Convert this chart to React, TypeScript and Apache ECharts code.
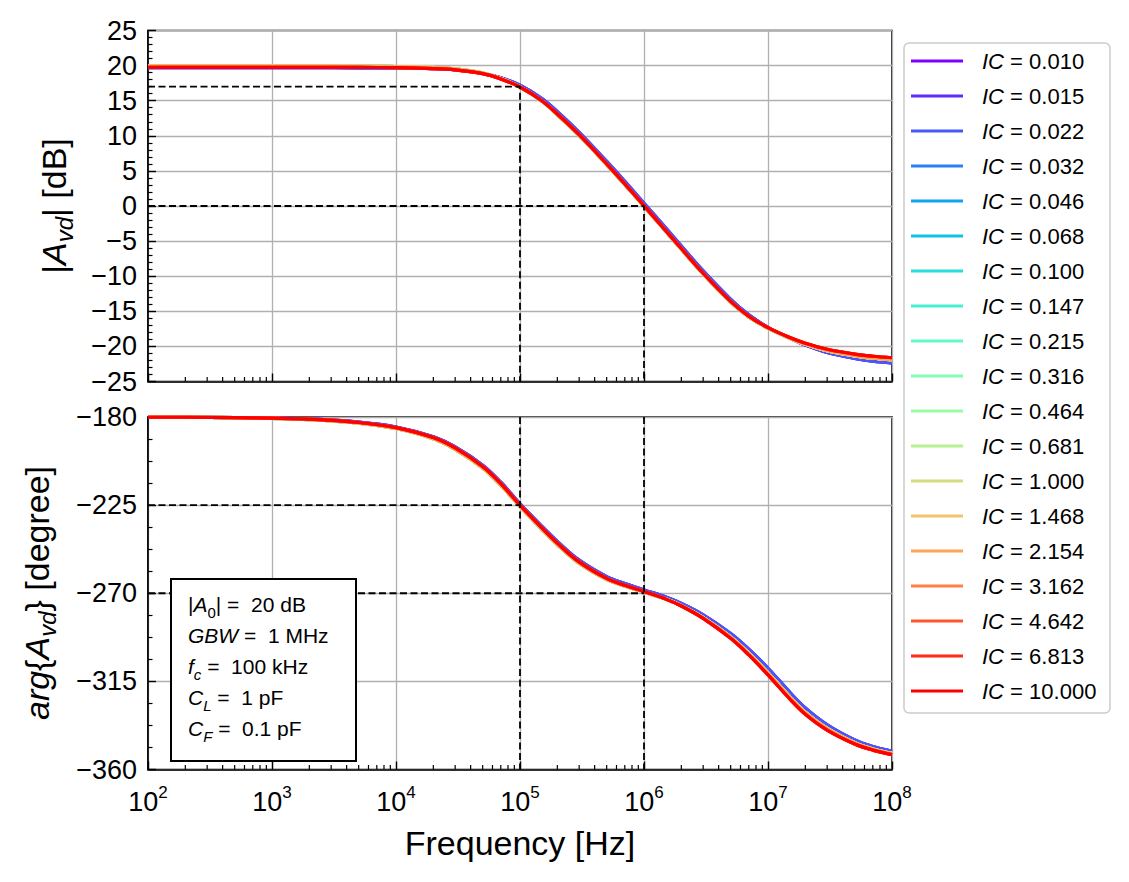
import { useEffect, useRef } from "react";
import * as echarts from "echarts";

const FONT = "'Liberation Sans', Arial, Helvetica, sans-serif";

// IC values shown in the legend and their rainbow colours
const icLabels = [
  "0.010", "0.015", "0.022", "0.032", "0.046", "0.068", "0.100", "0.147", "0.215", "0.316",
  "0.464", "0.681", "1.000", "1.468", "2.154", "3.162", "4.642", "6.813", "10.000",
];
const icColors = [
  "#8000ff", "#632cfe", "#4757fb", "#2b80f6", "#0ea4f0", "#0ec3e7", "#2adddd", "#47f0d1", "#63fbc3", "#80ffb4",
  "#9cfba4", "#b8f092", "#d4dd80", "#f1c36c", "#ffa457", "#ff8042", "#ff572c", "#ff2c16", "#ff0000",
];

// sampled frequencies (Hz)
const freqs = [
  1e2, 2e2, 5e2, 1e3, 2e3, 5e3, 1e4, 2e4, 3e4, 5e4, 7e4, 1e5, 1.5e5, 2e5, 3e5,
  5e5, 7e5, 1e6, 1.5e6, 2e6, 3e6, 5e6, 7e6, 1e7, 1.5e7, 2e7, 3e7, 5e7, 7e7, 1e8,
];

// |Avd| in dB (low IC, mid IC, high IC)
const magLow = [
  19.7, 19.7, 19.7, 19.7, 19.7, 19.69, 19.66, 19.56, 19.4, 18.9, 18.25, 17.2, 15.3, 13.45, 10.5,
  6.35, 3.5, 0.4, -3.15, -5.7, -9.25, -13.3, -15.5, -17.3, -18.85, -19.8, -20.85, -21.7, -22.1, -22.35,
];
const magMid = [
  19.92, 19.92, 19.92, 19.92, 19.92, 19.91, 19.87, 19.74, 19.55, 18.95, 18.15, 16.95, 14.95, 13.0, 10.05,
  5.9, 3.05, -0.05, -3.62, -6.16, -9.68, -13.68, -15.8, -17.4, -18.85, -19.7, -20.6, -21.35, -21.68, -21.9,
];
const magHigh = [
  19.75, 19.75, 19.75, 19.75, 19.75, 19.74, 19.7, 19.58, 19.4, 18.85, 18.1, 16.95, 15.0, 13.1, 10.15,
  6.0, 3.15, 0.05, -3.52, -6.06, -9.58, -13.58, -15.7, -17.33, -18.74, -19.55, -20.4, -21.1, -21.4, -21.62,
];

// arg{Avd} in degrees
const phaseLow = [
  -180.1, -180.1, -180.3, -180.5, -181.0, -182.6, -185.1, -190.1, -195.3, -204.6, -213.3, -224.3, -235.8, -243.5, -253.1,
  -261.5, -265.0, -268.3, -271.9, -275.2, -281.0, -290.6, -298.6, -308.3, -320.6, -328.6, -337.2, -344.9, -348.3, -350.7,
];
const phaseMid = [
  -180.1, -180.1, -180.3, -180.7, -181.3, -183.1, -185.9, -191.1, -196.5, -206.0, -214.8, -225.7, -237.3, -245.1, -254.6,
  -262.9, -266.3, -269.4, -273.0, -276.3, -282.4, -292.3, -300.6, -310.6, -322.9, -330.8, -339.0, -346.3, -349.5, -351.8,
];
const phaseHigh = [
  -180.1, -180.1, -180.3, -180.6, -181.1, -182.8, -185.4, -190.5, -195.8, -205.3, -214.0, -225.0, -236.6, -244.4, -254.0,
  -262.4, -265.9, -269.1, -273.0, -276.5, -282.8, -293.0, -301.5, -311.7, -324.0, -331.8, -339.9, -347.0, -350.1, -352.4,
];

// which read curve each IC follows (0 low, 1 mid, 2 high)
const curveGroup = [0, 0, 0, 1, 1, 1, 1, 1, 1, 1, 1, 1, 1, 1, 1, 2, 2, 2, 2];

// dashed guide lines
const guideFreq = [1e5, 1e6];
const guideMag = [17, 0];
const guidePhase = [-225, -270];

const minus = (v: number) => (v < 0 ? "\u2212" + Math.abs(v) : String(v));

export default function App() {
  const chartRef = useRef<HTMLDivElement>(null);

  useEffect(() => {
    if (!chartRef.current) return;
    const chart = echarts.init(chartRef.current, undefined, { renderer: "svg" });

    const mags = [magLow, magMid, magHigh];
    const phases = [phaseLow, phaseMid, phaseHigh];

    const series: any[] = [];
    icLabels.forEach((ic, k) => {
      const g = curveGroup[k];
      const common = {
        name: "IC=" + ic,
        type: "line",
        smooth: 0.35,
        showSymbol: false,
        symbol: "none",
        color: icColors[k],
        lineStyle: { width: 3.2, color: icColors[k] },
        z: 2,
        silent: true,
      };
      series.push({ ...common, xAxisIndex: 0, yAxisIndex: 0, data: freqs.map((f, i) => [f, mags[g][i]]) });
      series.push({ ...common, xAxisIndex: 1, yAxisIndex: 1, data: freqs.map((f, i) => [f, phases[g][i]]) });
    });

    const dashed = { type: [7, 3.5], color: "#000", width: 1.8 };
    guideFreq.forEach((f, k) => {
      const base = { type: "line", symbol: "none", silent: true, z: 5, lineStyle: dashed, color: "#000" };
      series.push({ ...base, xAxisIndex: 0, yAxisIndex: 0, data: [[100, guideMag[k]], [f, guideMag[k]], [f, -25]] });
      series.push({ ...base, xAxisIndex: 1, yAxisIndex: 1, data: [[100, guidePhase[k]], [f, guidePhase[k]]] });
      series.push({ ...base, xAxisIndex: 1, yAxisIndex: 1, data: [[f, -180], [f, -360]] });
    });

    // log minor ticks (2..9 per decade)
    const minorFreqs: number[] = [];
    for (let d = 2; d < 8; d++) for (let m = 2; m < 10; m++) minorFreqs.push(m * Math.pow(10, d));
    const minorTick = (xi: number, yBottom: number) => ({
      type: "custom",
      xAxisIndex: xi,
      yAxisIndex: xi,
      silent: true,
      clip: false,
      z: 6,
      data: minorFreqs.map((f) => [f, yBottom]),
      renderItem: (_p: any, api: any) => {
        const p = api.coord([api.value(0), api.value(1)]);
        return {
          type: "line",
          shape: { x1: p[0], y1: p[1], x2: p[0], y2: p[1] - 4.5 },
          style: { stroke: "#000", lineWidth: 1.2 },
        };
      },
    });
    series.push(minorTick(0, -25));
    series.push(minorTick(1, -360));

    const tick = { show: true, inside: true, length: 8, lineStyle: { color: "#000", width: 1.4 } };
    const axisLine = { show: true, onZero: false, lineStyle: { color: "#000", width: 1.6 } };
    const split = { show: true, lineStyle: { color: "#b0b0b0", width: 1.3 } };

    const xAxisBase = {
      type: "log",
      logBase: 10,
      min: 100,
      max: 1e8,
      axisLine,
      axisTick: tick,
      splitLine: split,
    };

    const yAxisBase = {
      type: "value",
      axisLine,
      axisTick: tick,
      splitLine: split,
      axisLabel: { fontSize: 27, color: "#000", fontFamily: FONT, margin: 11, formatter: minus },
    };

    const titleRich = {
      n: { fontSize: 34, fontFamily: FONT, lineHeight: 44, fill: "#000" },
      i: { fontSize: 34, fontFamily: FONT, fontStyle: "italic", lineHeight: 44, fill: "#000" },
      s: { fontSize: 24, fontFamily: FONT, fontStyle: "italic", lineHeight: 22, verticalAlign: "bottom", fill: "#000" },
    };

    const boxRich = {
      n: { fontSize: 21, fontFamily: FONT, lineHeight: 31, fill: "#000" },
      i: { fontSize: 21, fontFamily: FONT, fontStyle: "italic", lineHeight: 31, fill: "#000" },
      s: { fontSize: 15, fontFamily: FONT, lineHeight: 14, verticalAlign: "bottom", fill: "#000" },
      si: { fontSize: 15, fontFamily: FONT, fontStyle: "italic", lineHeight: 14, verticalAlign: "bottom", fill: "#000" },
    };

    const option: any = {
      animation: false,
      backgroundColor: "#fff",
      textStyle: { fontFamily: FONT },
      grid: [
        { left: 148, top: 30.5, width: 744, height: 351, show: true, borderColor: "#000", borderWidth: 1.6 },
        { left: 148, top: 417, width: 744, height: 352.5, show: true, borderColor: "#000", borderWidth: 1.6 },
      ],
      xAxis: [
        { ...xAxisBase, gridIndex: 0, axisLabel: { show: false } },
        {
          ...xAxisBase,
          gridIndex: 1,
          axisLabel: {
            margin: 14,
            color: "#000",
            formatter: (v: number) => `{b|10}{s|${Math.round(Math.log10(v))}}`,
            rich: {
              b: { fontSize: 27, fontFamily: FONT, lineHeight: 36, color: "#000" },
              s: { fontSize: 17, fontFamily: FONT, lineHeight: 10, verticalAlign: "top", color: "#000" },
            },
          },
        },
      ],
      yAxis: [
        {
          ...yAxisBase,
          gridIndex: 0,
          min: -25,
          max: 25,
          interval: 5,
          minorTick: { show: true, splitNumber: 5, length: 4.5, lineStyle: { color: "#000", width: 1.2 } },
        },
        {
          ...yAxisBase,
          gridIndex: 1,
          min: -360,
          max: -180,
          interval: 45,
          minorTick: { show: true, splitNumber: 4, length: 4.5, lineStyle: { color: "#000", width: 1.2 } },
        },
      ],
      legend: {
        orient: "vertical",
        left: 911,
        top: 50,
        padding: 0,
        itemGap: 13,
        itemWidth: 52,
        itemHeight: 3,
        icon: "rect",
        selectedMode: false,
        data: icLabels.map((ic) => "IC=" + ic),
        formatter: (name: string) => `{i|IC}{n| = ${name.slice(3)}}`,
        textStyle: {
          rich: {
            i: { fontSize: 22, fontFamily: FONT, fontStyle: "italic", lineHeight: 26, color: "#000", padding: [0, 0, 0, 14] },
            n: { fontSize: 22, fontFamily: FONT, lineHeight: 26, color: "#000" },
          },
        },
      },
      graphic: [
        {
          type: "rect",
          z: 0,
          shape: { x: 904, y: 43, width: 206, height: 670, r: 5 },
          style: { fill: "#fff", stroke: "#cccccc", lineWidth: 1.5 },
        },
        {
          type: "text",
          x: 54,
          y: 206,
          rotation: Math.PI / 2,
          style: {
            text: "{n||}{i|A}{s|vd}{n|| [dB]}",
            rich: titleRich,
            fontSize: 34,
            fontFamily: FONT,
            lineHeight: 44,
            align: "center",
            verticalAlign: "middle",
            fill: "#000",
          },
        },
        {
          type: "text",
          x: 37,
          y: 593,
          rotation: Math.PI / 2,
          style: {
            text: "{i|arg}{n|{}{i|A}{s|vd}}{n| [degree]}",
            rich: titleRich,
            fontSize: 34,
            fontFamily: FONT,
            lineHeight: 44,
            align: "center",
            verticalAlign: "middle",
            fill: "#000",
          },
        },
        {
          type: "text",
          x: 520,
          y: 843,
          style: {
            text: "Frequency [Hz]",
            fontSize: 34,
            fontFamily: FONT,
            align: "center",
            verticalAlign: "middle",
            fill: "#000",
          },
        },
        {
          type: "rect",
          z: 100,
          shape: { x: 171, y: 579, width: 185, height: 182 },
          style: { fill: "#fff", stroke: "#000", lineWidth: 2 },
        },
        {
          type: "text",
          z: 101,
          x: 188,
          y: 588.5,
          style: {
            text:
              "{n||}{i|A}{s|0}{n|| =  20 dB}\n" +
              "{i|GBW}{n| =  1 MHz}\n" +
              "{i|f}{si|c}{n| =  100 kHz}\n" +
              "{i|C}{si|L}{n| =  1 pF}\n" +
              "{i|C}{si|F}{n| =  0.1 pF}",
            rich: boxRich,
            fontSize: 21,
            fontFamily: FONT,
            align: "left",
            verticalAlign: "top",
            fill: "#000",
          },
        },
      ],
      series,
    };

    chart.setOption(option);
    return () => chart.dispose();
  }, []);

  return (
    <div
      ref={chartRef}
      style={{ position: "fixed", left: 0, top: 0, width: 1129, height: 882, background: "#fff" }}
    />
  );
}
